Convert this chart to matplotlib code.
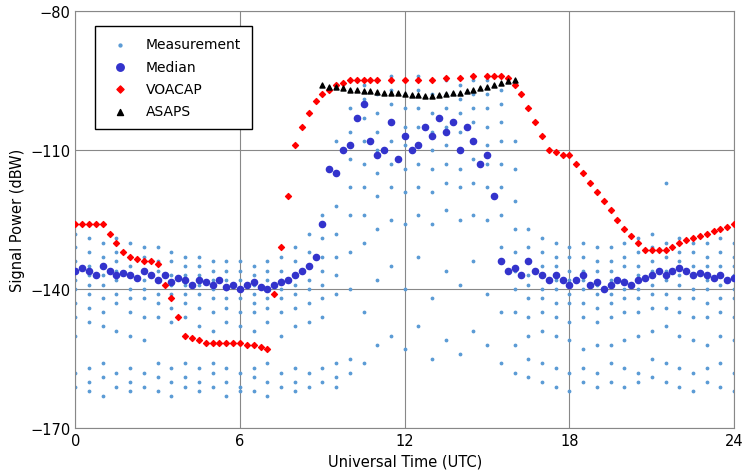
import matplotlib
matplotlib.use('Agg')
import matplotlib.pyplot as plt

# measurement clusters, one list of readings per half-hour slot
meas_t = [i * 0.5 for i in range(49)]
meas_v = [
    [-128, -131, -134, -136, -138, -140, -143, -146, -150, -158, -161],
    [-129, -132, -135, -137, -139, -141, -144, -147, -157, -160, -162],
    [-130, -133, -135, -137, -139, -142, -145, -148, -156, -159, -163],
    [-129, -132, -134, -136, -138, -141, -143, -149, -158, -161],
    [-130, -133, -135, -137, -140, -142, -145, -150, -157, -160, -162],
    [-131, -133, -136, -138, -140, -142, -146, -151, -158, -161],
    [-131, -134, -136, -138, -141, -143, -146, -156, -159, -162],
    [-132, -134, -137, -139, -141, -144, -147, -157, -160, -163],
    [-133, -135, -137, -139, -141, -143, -146, -156, -159, -161],
    [-133, -135, -137, -139, -141, -144, -148, -157, -160, -162],
    [-134, -136, -138, -140, -142, -145, -149, -156, -158, -161],
    [-134, -136, -138, -140, -142, -144, -147, -157, -160, -163],
    [-134, -136, -138, -140, -142, -145, -148, -158, -161, -162],
    [-135, -137, -139, -141, -143, -145, -149, -157, -159, -162],
    [-134, -136, -138, -140, -142, -144, -147, -156, -160, -163],
    [-133, -136, -138, -140, -142, -145, -150, -158, -161],
    [-131, -134, -137, -139, -141, -144, -148, -157, -160, -162],
    [-128, -132, -135, -138, -140, -143, -147, -158, -161],
    [-124, -129, -133, -136, -139, -142, -146, -157, -160],
    [-108, -115, -122, -128, -133, -137, -141, -156, -159, -161],
    [-97, -101, -106, -112, -118, -124, -132, -140, -155, -158],
    [-96, -99, -103, -108, -113, -118, -124, -130, -145, -156],
    [-95, -98, -102, -106, -110, -115, -120, -127, -138, -152],
    [-94, -97, -100, -104, -108, -113, -118, -125, -135, -150],
    [-95, -98, -101, -105, -109, -114, -119, -126, -140, -153],
    [-94, -97, -101, -105, -109, -113, -118, -124, -133, -148],
    [-95, -98, -102, -106, -110, -114, -119, -126, -142, -155],
    [-95, -98, -101, -105, -109, -113, -117, -123, -136, -151],
    [-96, -99, -102, -106, -110, -114, -118, -125, -139, -154],
    [-95, -98, -101, -104, -108, -112, -117, -124, -134, -149],
    [-95, -98, -101, -105, -109, -113, -118, -125, -141, -152],
    [-97, -100, -104, -108, -113, -118, -124, -131, -145, -156],
    [-108, -114, -121, -127, -132, -136, -140, -145, -152, -158],
    [-127, -131, -134, -137, -139, -142, -146, -150, -155, -159],
    [-129, -132, -135, -137, -140, -142, -145, -149, -156, -160],
    [-130, -133, -135, -138, -140, -143, -146, -150, -157, -161],
    [-131, -133, -136, -138, -141, -143, -147, -151, -158, -162],
    [-130, -133, -136, -138, -140, -143, -146, -153, -157, -160],
    [-131, -134, -136, -139, -141, -144, -147, -152, -158, -161],
    [-131, -134, -136, -138, -141, -143, -146, -152, -156, -160],
    [-130, -133, -135, -138, -140, -142, -145, -151, -157, -161],
    [-129, -132, -135, -137, -140, -142, -145, -150, -158, -160],
    [-128, -131, -134, -136, -139, -141, -144, -149, -155, -159],
    [-117, -130, -133, -136, -138, -141, -144, -148, -156, -160],
    [-129, -132, -134, -137, -139, -142, -145, -150, -157, -161],
    [-130, -132, -135, -137, -140, -142, -146, -151, -158, -162],
    [-130, -133, -135, -138, -140, -143, -146, -152, -157, -160],
    [-129, -132, -135, -137, -139, -142, -145, -150, -156, -161],
    [-130, -133, -135, -137, -140, -142, -146, -151, -158, -162],
]

med_t = [i * 0.25 for i in range(97)]
med_v = [-136, -135.5, -136, -137, -135, -136, -137, -136.5, -137, -137.5, -136, -137,
         -138, -137, -138.5, -137.5, -138, -139, -138, -138.5, -139, -138, -139.5, -139,
         -140, -139, -138.5, -139.5, -140, -139, -138.5, -138, -137, -136, -135, -133,
         -126, -114, -115, -110, -109, -103, -100, -108, -111, -110, -104, -112,
         -107, -110, -109, -105, -107, -103, -106, -104, -110, -105, -108, -113,
         -111, -120, -134, -136, -135.5, -137, -134, -136, -137, -138, -137, -138,
         -139, -138, -137, -139, -138.5, -140, -139, -138, -138.5, -139, -138, -137.5,
         -137, -136, -137, -136, -135.5, -136, -137, -136.5, -137, -137.5, -137, -138,
         -137.5]

voa_t = [0, 0.25, 0.5, 0.75, 1.0, 1.25, 1.5, 1.75, 2.0, 2.25, 2.5, 2.75, 3.0, 3.25, 3.5,
         3.75, 4.0, 4.25, 4.5, 4.75, 5.0, 5.25, 5.5, 5.75, 6.0, 6.25, 6.5, 6.75, 7.0,
         7.25, 7.5, 7.75, 8.0, 8.25, 8.5, 8.75, 9.0, 9.25, 9.5, 9.75, 10.0, 10.25, 10.5,
         10.75, 11.0, 11.5, 12.0, 12.5, 13.0, 13.5, 14.0, 14.5, 15.0, 15.25, 15.5, 15.75,
         16.0, 16.25, 16.5, 16.75, 17.0, 17.25, 17.5, 17.75, 18.0, 18.25, 18.5, 18.75,
         19.0, 19.25, 19.5, 19.75, 20.0, 20.25, 20.5, 20.75, 21.0, 21.25, 21.5, 21.75,
         22.0, 22.25, 22.5, 22.75, 23.0, 23.25, 23.5, 23.75, 24.0]
voa_v = [-126, -126, -126, -126, -126, -128, -130, -132, -133, -133.5, -134, -134, -134.5,
         -139, -142, -146, -150, -150.5, -151, -151.5, -151.5, -151.5, -151.5, -151.5,
         -151.5, -152, -152, -152.5, -153, -141, -131, -120, -109, -105, -102, -99.5,
         -98, -97, -96, -95.5, -95, -95, -95, -95, -95, -95, -95, -95, -95, -94.5, -94.5,
         -94, -94, -94, -94, -94.5, -96, -98, -101, -104, -107, -110, -110.5, -111, -111,
         -113, -115, -117, -119, -121, -123, -125, -127, -128.5, -130, -131.5, -131.5,
         -131.5, -131.5, -131, -130, -129.5, -129, -128.5, -128, -127.5, -127, -126.5,
         -126]

asa_t = [9.0, 9.25, 9.5, 9.75, 10.0, 10.25, 10.5, 10.75, 11.0, 11.25, 11.5, 11.75, 12.0,
         12.25, 12.5, 12.75, 13.0, 13.25, 13.5, 13.75, 14.0, 14.25, 14.5, 14.75, 15.0,
         15.25, 15.5, 15.75, 16.0]
asa_v = [-96, -96.3, -96.5, -96.7, -97, -97, -97.2, -97.3, -97.5, -97.6, -97.7, -97.8,
         -98, -98.1, -98.2, -98.3, -98.3, -98.2, -98, -97.8, -97.6, -97.3, -97, -96.7,
         -96.4, -96, -95.6, -95.2, -94.8]

xs, ys = [], []
for t, vals in zip(meas_t, meas_v):
    for v in vals:
        xs.append(t)
        ys.append(v)

fig, ax = plt.subplots(figsize=(7.53, 4.77), dpi=100)
ax.scatter(xs, ys, s=3, color='#5b9bd5', label='Measurement', zorder=2)
ax.scatter(med_t, med_v, s=20, color='#3333cc', label='Median', zorder=3)
ax.scatter(voa_t, voa_v, s=9, marker='D', color='#ff0000', label='VOACAP', zorder=4)
ax.scatter(asa_t, asa_v, s=13, marker='^', color='black', label='ASAPS', zorder=5)

ax.set_xlim(0, 24)
ax.set_ylim(-170, -80)
ax.set_xticks([0, 6, 12, 18, 24])
ax.set_yticks([-170, -140, -110, -80])
ax.grid(True, color='#888888', linewidth=0.8)
ax.set_axisbelow(True)
ax.tick_params(labelsize=10.5, length=0)
for s in ax.spines.values():
    s.set_color('#888888')
ax.set_xlabel('Universal Time (UTC)', fontsize=10.5)
ax.set_ylabel('Signal Power (dBW)', fontsize=10.5)
leg = ax.legend(loc='upper left', fontsize=10, frameon=True, fancybox=False,
                edgecolor='black', borderpad=0.8, labelspacing=0.6,
                bbox_to_anchor=(0.02, 0.98), markerscale=1.2)
leg.get_frame().set_alpha(1)
plt.subplots_adjust(left=0.1, right=0.975, top=0.975, bottom=0.1)
fig.savefig('out.png')
